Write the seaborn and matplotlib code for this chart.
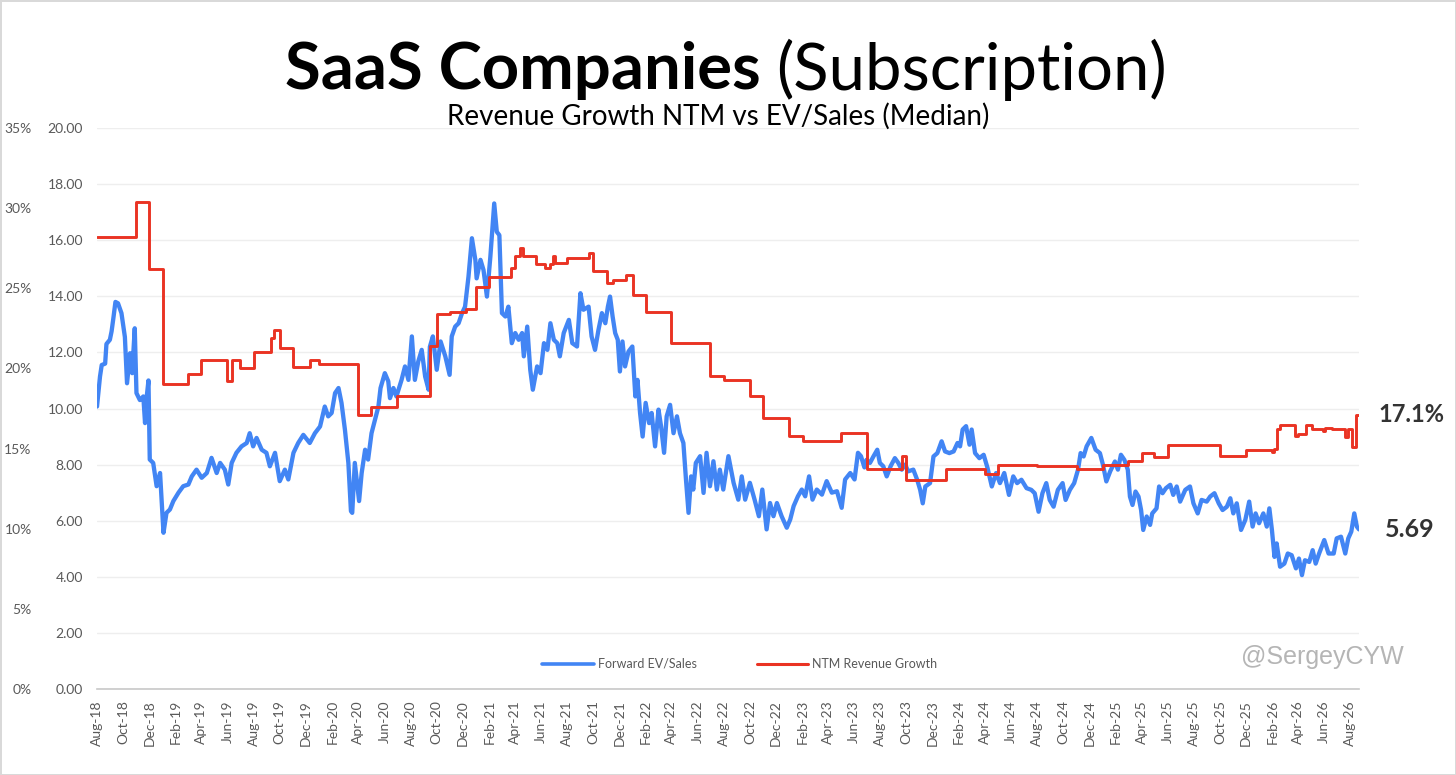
import pandas as pd
import numpy as np
import matplotlib
matplotlib.use("Agg")
import matplotlib.pyplot as plt
import matplotlib.dates as mdates
from matplotlib.lines import Line2D
import seaborn as sns

# Forward EV/Sales (median)
ev_dates = [
    "2018-08-01", "2018-08-08", "2018-08-12", "2018-08-20", "2018-08-23", "2018-08-31", "2018-09-04",
    "2018-09-08", "2018-09-13", "2018-09-19", "2018-09-27", "2018-10-05", "2018-10-10", "2018-10-17",
    "2018-10-22", "2018-10-28", "2018-11-01", "2018-11-09", "2018-11-17", "2018-11-21", "2018-11-25",
    "2018-11-29", "2018-12-02", "2018-12-10", "2018-12-18", "2018-12-26", "2019-01-03", "2019-01-10",
    "2019-01-18", "2019-01-26", "2019-02-07", "2019-02-18", "2019-03-02", "2019-03-10", "2019-03-21",
    "2019-04-02", "2019-04-14", "2019-04-25", "2019-05-07", "2019-05-15", "2019-05-26", "2019-06-03",
    "2019-06-11", "2019-06-22", "2019-07-04", "2019-07-16", "2019-07-23", "2019-07-31", "2019-08-08",
    "2019-08-20", "2019-08-31", "2019-09-08", "2019-09-20", "2019-10-01", "2019-10-13", "2019-10-21",
    "2019-11-02", "2019-11-13", "2019-11-25", "2019-12-10", "2019-12-22", "2020-01-03", "2020-01-14",
    "2020-01-22", "2020-01-30", "2020-02-07", "2020-02-15", "2020-02-22", "2020-03-01", "2020-03-09",
    "2020-03-15", "2020-03-18", "2020-03-24", "2020-04-03", "2020-04-09", "2020-04-17", "2020-04-24",
    "2020-05-02", "2020-05-10", "2020-05-18", "2020-05-23", "2020-06-02", "2020-06-10", "2020-06-14",
    "2020-06-22", "2020-06-29", "2020-07-11", "2020-07-19", "2020-07-27", "2020-08-04", "2020-08-11",
    "2020-08-19", "2020-08-27", "2020-09-04", "2020-09-12", "2020-09-15", "2020-09-22", "2020-10-01",
    "2020-10-10", "2020-10-21", "2020-10-31", "2020-11-05", "2020-11-13", "2020-11-21", "2020-11-29",
    "2020-12-06", "2020-12-14", "2020-12-22", "2020-12-30", "2021-01-02", "2021-01-11", "2021-01-18",
    "2021-01-26", "2021-02-03", "2021-02-12", "2021-02-18", "2021-02-24", "2021-03-02", "2021-03-10",
    "2021-03-17", "2021-03-25", "2021-04-02", "2021-04-10", "2021-04-18", "2021-04-22", "2021-04-30",
    "2021-05-07", "2021-05-13", "2021-05-23", "2021-05-31", "2021-06-08", "2021-06-16", "2021-06-23",
    "2021-07-01", "2021-07-09", "2021-07-15", "2021-07-24", "2021-08-05", "2021-08-13", "2021-08-24",
    "2021-09-01", "2021-09-08", "2021-09-20", "2021-09-27", "2021-10-05", "2021-10-13", "2021-10-21",
    "2021-10-29", "2021-11-04", "2021-11-09", "2021-11-15", "2021-11-21", "2021-11-27", "2021-12-02",
    "2021-12-08", "2021-12-14", "2021-12-22", "2021-12-31", "2022-01-07", "2022-01-12", "2022-01-18",
    "2022-01-24", "2022-01-31", "2022-02-08", "2022-02-14", "2022-02-22", "2022-03-02", "2022-03-08",
    "2022-03-15", "2022-03-21", "2022-03-29", "2022-04-06", "2022-04-14", "2022-04-21", "2022-04-29",
    "2022-05-05", "2022-05-11", "2022-05-17", "2022-05-22", "2022-05-28", "2022-06-07", "2022-06-15",
    "2022-06-22", "2022-06-30", "2022-07-08", "2022-07-16", "2022-07-23", "2022-07-31", "2022-08-12",
    "2022-08-24", "2022-09-04", "2022-09-12", "2022-09-20", "2022-10-01", "2022-10-12", "2022-10-22",
    "2022-10-30", "2022-11-09", "2022-11-17", "2022-11-25", "2022-12-03", "2022-12-14", "2022-12-26",
    "2023-01-03", "2023-01-11", "2023-01-21", "2023-01-30", "2023-02-07", "2023-02-16", "2023-02-24",
    "2023-03-06", "2023-03-18", "2023-03-29", "2023-04-10", "2023-04-22", "2023-05-03", "2023-05-11",
    "2023-05-23", "2023-06-02", "2023-06-10", "2023-06-17", "2023-06-25", "2023-06-30", "2023-07-08",
    "2023-07-16", "2023-07-25", "2023-07-31", "2023-08-08", "2023-08-16", "2023-08-25", "2023-09-04",
    "2023-09-12", "2023-09-20", "2023-09-28", "2023-10-05", "2023-10-17", "2023-10-26", "2023-11-02",
    "2023-11-08", "2023-11-14", "2023-11-25", "2023-12-03", "2023-12-12", "2023-12-22", "2023-12-30",
    "2024-01-09", "2024-01-19", "2024-01-28", "2024-02-03", "2024-02-09", "2024-02-17", "2024-02-25",
    "2024-03-01", "2024-03-09", "2024-03-19", "2024-03-29", "2024-04-07", "2024-04-17", "2024-04-27",
    "2024-05-06", "2024-05-16", "2024-05-27", "2024-06-06", "2024-06-15", "2024-06-25", "2024-07-07",
    "2024-07-18", "2024-07-26", "2024-08-04", "2024-08-13", "2024-08-22", "2024-08-30", "2024-09-08",
    "2024-09-18", "2024-09-29", "2024-10-06", "2024-10-16", "2024-10-26", "2024-11-04", "2024-11-10",
    "2024-11-17", "2024-11-24", "2024-12-05", "2024-12-15", "2024-12-25", "2025-01-01", "2025-01-09",
    "2025-01-18", "2025-01-29", "2025-02-05", "2025-02-12", "2025-02-20", "2025-02-28", "2025-03-05",
    "2025-03-11", "2025-03-18", "2025-03-25", "2025-03-31", "2025-04-05", "2025-04-13", "2025-04-21",
    "2025-04-26", "2025-05-06", "2025-05-12", "2025-05-20", "2025-05-28", "2025-06-07", "2025-06-14",
    "2025-06-22", "2025-06-30", "2025-07-12", "2025-07-23", "2025-07-31", "2025-08-10", "2025-08-19",
    "2025-08-31", "2025-09-08", "2025-09-18", "2025-09-28", "2025-10-07", "2025-10-17", "2025-10-25",
    "2025-11-01", "2025-11-09", "2025-11-19", "2025-11-29", "2025-12-08", "2025-12-16", "2025-12-23",
    "2025-12-31", "2026-01-10", "2026-01-18", "2026-01-24", "2026-01-30", "2026-02-05", "2026-02-10",
    "2026-02-18", "2026-02-28", "2026-03-08", "2026-03-17", "2026-03-27", "2026-04-03", "2026-04-10",
    "2026-04-17", "2026-04-27", "2026-05-05", "2026-05-12", "2026-05-20", "2026-06-01", "2026-06-11",
    "2026-06-23", "2026-06-30", "2026-07-10", "2026-07-20", "2026-07-27", "2026-08-03", "2026-08-10",
    "2026-08-16", "2026-08-21",
]
ev_values = [
    10.07, 11.14, 11.55, 11.6, 12.3, 12.45, 12.75,
    13.2, 13.8, 13.75, 13.4, 12.55, 10.9, 11.97,
    11.26, 12.86, 10.55, 10.3, 10.43, 9.48, 10.43,
    11.0, 8.18, 8.06, 7.23, 7.7, 5.57, 6.28,
    6.4, 6.7, 7.0, 7.23, 7.29, 7.58, 7.82,
    7.53, 7.7, 8.24, 7.7, 8.06, 7.82, 7.29,
    8.06, 8.42, 8.65, 8.77, 9.12, 8.65, 8.95,
    8.53, 8.42, 7.94, 8.42, 7.41, 7.82, 7.47,
    8.42, 8.77, 9.06, 8.77, 9.12, 9.36, 10.07,
    9.72, 9.84, 10.55, 10.73, 10.2, 9.24, 8.06,
    6.34, 6.28, 8.06, 6.7, 7.7, 8.53, 8.18,
    9.12, 9.6, 10.07, 10.73, 11.26, 10.97, 10.37,
    10.73, 10.43, 11.02, 11.5, 11.02, 12.57, 11.02,
    11.68, 12.09, 11.14, 10.67, 12.2, 12.57, 11.38,
    12.39, 11.86, 11.2, 12.57, 12.92, 13.04, 13.4,
    13.63, 14.7, 16.07, 15.3, 14.64, 15.3, 14.94,
    13.99, 15.41, 17.31, 16.3, 16.18, 13.4, 13.28,
    13.63, 12.33, 12.69, 12.45, 12.69, 11.86, 12.92,
    11.38, 10.67, 11.5, 11.26, 12.33, 12.09, 13.04,
    12.45, 12.33, 11.86, 12.69, 13.16, 12.33, 12.21,
    14.11, 13.52, 13.63, 12.57, 12.09, 12.8, 13.4,
    13.04, 13.63, 13.99, 13.28, 12.69, 12.45, 11.32,
    12.39, 11.5, 12.03, 12.21, 10.43, 11.02, 9.84,
    9.0, 10.2, 9.48, 9.84, 8.65, 9.96, 9.36,
    8.42, 9.72, 10.13, 9.12, 9.72, 9.12, 8.77,
    7.47, 6.28, 7.58, 7.11, 8.06, 8.3, 6.99,
    8.42, 7.23, 8.12, 7.11, 7.82, 7.11, 8.3,
    7.35, 6.75, 7.58, 6.75, 7.35, 6.75, 6.16,
    7.11, 5.69, 6.63, 6.16, 6.63, 6.16, 5.75,
    6.04, 6.52, 6.87, 7.11, 6.87, 7.58, 6.75,
    7.11, 6.93, 7.41, 7.0, 7.05, 6.46, 7.47,
    7.7, 7.47, 8.42, 8.3, 7.9, 8.17, 8.06,
    8.29, 8.53, 8.06, 7.94, 7.58, 7.94, 8.23,
    8.06, 7.82, 8.0, 7.76, 7.82, 7.46, 7.1,
    6.62, 7.22, 7.34, 8.29, 8.41, 8.83, 8.47,
    8.41, 8.47, 8.77, 8.65, 9.25, 9.37, 8.71,
    9.25, 8.41, 8.23, 8.35, 7.88, 7.22, 7.7,
    7.34, 7.7, 6.92, 7.58, 7.34, 7.46, 7.16,
    7.1, 6.98, 6.32, 6.98, 7.34, 6.74, 6.5,
    7.1, 7.34, 6.74, 7.1, 7.34, 7.82, 8.41,
    8.29, 8.65, 8.95, 8.53, 8.41, 8.0, 7.4,
    7.76, 8.11, 7.82, 8.35, 8.17, 7.82, 6.86,
    6.56, 7.04, 6.86, 6.38, 5.67, 6.15, 5.85,
    6.26, 6.44, 7.22, 6.98, 7.16, 7.28, 6.92,
    7.22, 6.68, 7.1, 7.22, 6.62, 6.26, 6.74,
    6.68, 6.86, 6.98, 6.62, 6.38, 6.5, 6.8,
    6.26, 6.62, 5.67, 6.03, 6.68, 5.79, 6.26,
    5.91, 6.26, 5.79, 6.44, 5.67, 4.71, 5.19,
    4.36, 4.47, 4.83, 4.77, 4.3, 4.65, 4.06,
    4.59, 4.53, 4.95, 4.47, 4.83, 5.31, 4.83,
    4.83, 5.37, 5.43, 4.83, 5.37, 5.61, 6.26,
    5.79, 5.69,
]

# NTM revenue growth (median, %), step changes: start date -> level
growth_dates = [
    "2018-08-01", "2018-11-01", "2018-12-01", "2019-01-01", "2019-03-01", "2019-04-01", "2019-06-01",
    "2019-06-11", "2019-07-01", "2019-08-01", "2019-09-11", "2019-09-18", "2019-10-01", "2019-11-01",
    "2019-12-11", "2020-01-01", "2020-04-01", "2020-05-01", "2020-07-01", "2020-09-15", "2020-10-01",
    "2020-11-01", "2020-12-08", "2021-01-01", "2021-02-01", "2021-03-24", "2021-04-01", "2021-04-13",
    "2021-04-20", "2021-05-20", "2021-06-11", "2021-06-23", "2021-06-30", "2021-07-03", "2021-08-01",
    "2021-09-20", "2021-10-01", "2021-11-01", "2021-11-15", "2021-12-16", "2022-01-01", "2022-02-01",
    "2022-04-01", "2022-07-01", "2022-08-01", "2022-10-01", "2022-11-01", "2023-01-01", "2023-02-01",
    "2023-05-01", "2023-07-01", "2023-09-20", "2023-10-01", "2024-01-01", "2024-04-01", "2024-05-01",
    "2024-08-01", "2024-11-01", "2025-01-01", "2025-03-01", "2025-04-01", "2025-05-01", "2025-06-01",
    "2025-10-01", "2025-12-01", "2026-01-30", "2026-02-05", "2026-02-11", "2026-02-18", "2026-03-25",
    "2026-04-01", "2026-04-19", "2026-05-03", "2026-05-28", "2026-06-03", "2026-06-19", "2026-07-20",
    "2026-07-26", "2026-08-04", "2026-08-14", "2026-08-21",
]
growth_values = [
    28.2, 30.4, 26.2, 19.0, 19.65, 20.5, 19.2,
    20.5, 20.0, 21.0, 21.9, 22.4, 21.3, 20.1,
    20.5, 20.3, 17.1, 17.6, 18.3, 21.4, 23.4,
    23.5, 23.7, 25.1, 25.7, 26.25, 27.0, 27.5,
    27.0, 26.5, 26.25, 26.5, 27.0, 26.6, 26.9,
    27.2, 26.1, 25.3, 25.5, 25.8, 24.6, 23.5,
    21.6, 19.5, 19.3, 18.3, 16.9, 15.8, 15.5,
    16.0, 13.7, 14.55, 13.06, 13.7, 13.4, 13.95,
    13.9, 13.75, 13.97, 14.2, 14.7, 14.5, 15.2,
    14.55, 14.9, 14.8, 15.0, 16.2, 16.5, 15.8,
    15.9, 16.5, 16.2, 16.1, 16.3, 16.25, 15.75,
    16.25, 15.1, 17.1, 17.1,
]

ev_ticks = [0, 2, 4, 6, 8, 10, 12, 14, 16, 18, 20]
pct_ticks = [0, 5, 10, 15, 20, 25, 30, 35]

BLUE = "#4285F4"
RED = "#EA3323"
TXT = "#595959"

ev_df = pd.DataFrame({"date": pd.to_datetime(ev_dates), "ev": ev_values})
gr_df = pd.DataFrame({"date": pd.to_datetime(growth_dates), "growth": growth_values})

sns.set_theme(style="white")
plt.rcParams["font.family"] = ["Lato", "DejaVu Sans"]

fig = plt.figure(figsize=(14.56, 7.75), dpi=100)
fig.patch.set_facecolor("white")
W, H = 1456, 775
ax = fig.add_axes([97 / W, 1 - 689 / H, (1359 - 97) / W, (689 - 128) / H])
ax2 = ax.twinx()

sns.lineplot(data=ev_df, x="date", y="ev", ax=ax, color=BLUE, linewidth=3.1,
             legend=False, zorder=3)
sns.lineplot(data=gr_df, x="date", y="growth", ax=ax2, color=RED, linewidth=2.1,
             drawstyle="steps-post", legend=False, zorder=4)

ax.set_xlim(pd.Timestamp("2018-08-01"), pd.Timestamp("2026-08-21"))
ax.set_ylim(0, 20)
ax2.set_ylim(0, 35)

ax.set_yticks(ev_ticks)
ax.set_yticklabels([f"{v:.2f}" for v in ev_ticks])
ax2.set_yticks(pct_ticks)
ax2.set_yticklabels([f"{v}%" for v in pct_ticks])
ax2.yaxis.tick_left()
ax2.spines["left"].set_position(("outward", 47))

ax.xaxis.set_major_locator(mdates.MonthLocator(bymonth=[2, 4, 6, 8, 10, 12]))
ax.xaxis.set_major_formatter(mdates.DateFormatter("%b-%y"))
for lab in ax.get_xticklabels():
    lab.set_rotation(90)

ax.tick_params(axis="x", length=5, width=1, color="#c8c8c8", labelsize=10,
               labelcolor=TXT, pad=3)
ax.tick_params(axis="y", length=0, labelsize=10, labelcolor=TXT, pad=10)
ax2.tick_params(axis="y", length=0, labelsize=10, labelcolor=TXT, pad=0)

ax.grid(axis="y", color="#eeeeee", linewidth=1)
ax.grid(axis="x", visible=False)
ax2.grid(False)
ax.set_xlabel("")
ax.set_ylabel("")
ax2.set_ylabel("")
for s in ["top", "right", "left"]:
    ax.spines[s].set_visible(False)
    ax2.spines[s].set_visible(False)
ax2.spines["bottom"].set_visible(False)
ax.spines["bottom"].set_color("#c8c8c8")
ax.spines["bottom"].set_linewidth(1.2)

# end-of-series labels
ax2.annotate(f"{growth_values[-1]:.1f}%", xy=(gr_df["date"].iloc[-1], growth_values[-1]),
             xytext=(14, 0), textcoords="offset points", va="center", ha="left",
             fontsize=17, fontweight="bold", color="#333333", annotation_clip=False)
ax.annotate(f"{ev_values[-1]:.2f}", xy=(ev_df["date"].iloc[-1], ev_values[-1]),
            xytext=(19, 0), textcoords="offset points", va="center", ha="left",
            fontsize=18, fontweight="bold", color="#333333", annotation_clip=False)

handles = [Line2D([], [], color=BLUE, linewidth=2.6), Line2D([], [], color=RED, linewidth=2.2)]
ax2.legend(handles, ["Forward EV/Sales", "NTM Revenue Growth"], loc="center",
           bbox_to_anchor=(740 / W, 1 - 664 / H), bbox_transform=fig.transFigure,
           ncol=2, frameon=False, fontsize=9, handlelength=4.1, handletextpad=0.35,
           columnspacing=4.8, labelcolor=TXT)

fig.text(1322 / W, 1 - 657 / H, "@SergeyCYW", ha="center", va="center", fontsize=18,
         color="#b5b5b5", family=["Liberation Sans", "DejaVu Sans"])

# title: bold part + regular part, centred as a whole
renderer = fig.canvas.get_renderer()
t1 = fig.text(0, 1 - 70 / H, "SaaS Companies", ha="left", va="center",
              fontsize=47, fontweight="bold", color="black")
t2 = fig.text(0, 1 - 70 / H, "(Subscription)", ha="left", va="center",
              fontsize=47, color="black")
w1 = t1.get_window_extent(renderer=renderer).width
w2 = t2.get_window_extent(renderer=renderer).width
gap = 16
x0 = 726 - (w1 + gap + w2) / 2
t1.set_x(x0 / W)
t2.set_x((x0 + w1 + gap) / W)
fig.text(718 / W, 1 - 116 / H, "Revenue Growth NTM vs EV/Sales (Median)", ha="center",
         va="center", fontsize=20, color="black")

fig.patch.set_edgecolor("#d9d9d9")
fig.patch.set_linewidth(2)
fig.savefig("out.png", dpi=100, facecolor=fig.get_facecolor(), edgecolor=fig.get_edgecolor())
